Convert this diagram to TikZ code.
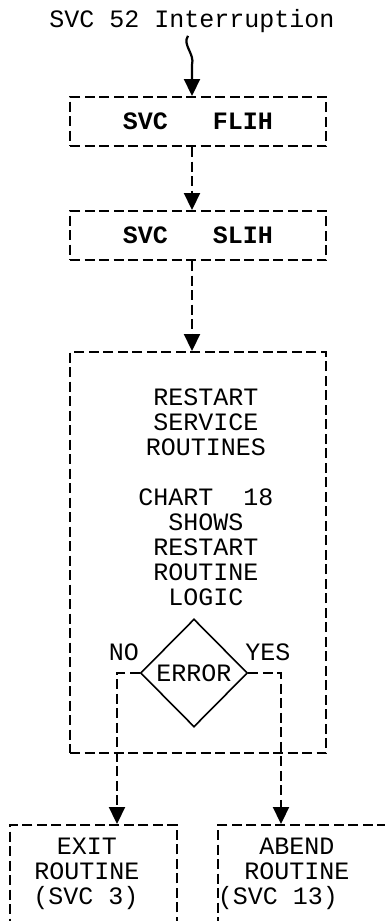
\documentclass[tikz,border=0pt]{standalone}
\usepackage{fontspec}
\newfontfamily\typefont{Liberation Mono}
\usetikzlibrary{shapes.geometric, arrows.meta, positioning}

\begin{document}
\begin{tikzpicture}[x=1pt, y=-1pt,
  font=\typefont\fontsize{25}{25}\selectfont,
  box/.style={rectangle, draw, line width=2pt, dash pattern=on 10pt off 4.5pt, minimum width=256pt, minimum height=49pt, align=center, inner sep=0pt},
  handler/.style={box, font=\typefont\fontsize{25}{25}\selectfont\bfseries},
  exitbox/.style={box, minimum width=167pt, anchor=north, inner ysep=13pt, text depth=60pt},
  decision/.style={diamond, draw, line width=1.6pt, minimum width=107pt, minimum height=108pt, inner sep=0pt},
  arrow/.style={-{Triangle[length=17pt, width=16pt]}, line width=2.2pt},
  flow/.style={arrow, dash pattern=on 10pt off 4.5pt}
]
  \useasboundingbox (0,0) rectangle (385,921);
  \clip (0,0) rectangle (385,921);

  \node[inner sep=0pt] (title) at (192,21) {SVC 52 Interruption};
  \node[handler] (flih) at (198,121.5) {SVC\ \ \ FLIH};
  \node[handler, below=63pt of flih] (slih) {SVC\ \ \ SLIH};
  \node[box, below=90pt of slih, minimum height=401pt] (restart) {};
  \node[align=center, inner sep=0pt] (restarttext) at (206,497)
    {RESTART\\SERVICE\\ROUTINES\\[25pt]CHART\ \ 18\\SHOWS\\RESTART\\ROUTINE\\LOGIC};
  \node[decision] (error) at (194,673) {ERROR};

  % the two exits run off the bottom of the page
  \node[exitbox] (exit) at (93.5,824)
    {\mbox{EXIT\hspace{13pt}}\\\mbox{ROUTINE\hspace{13pt}}\\\mbox{(SVC 3)\hspace{15pt}}};
  \node[exitbox] (abend) at (305.5,824)
    {\mbox{ABEND\hspace{17pt}}\\\mbox{ROUTINE\hspace{17pt}}\\\mbox{(SVC 13)\hspace{55pt}}};

  \draw[arrow] ([shift={(-4,3)}]title.south) .. controls +(-6,9) and +(3,-11) .. ++(4,29)
    -- (flih.north -| title);
  \draw[flow] (flih.south -| title) -- (slih.north -| title);
  \draw[flow] (slih.south -| title) -- (restart.north -| title);
  \draw[flow] (error.west) -| node[pos=0.35, above=8pt] {NO} ([xshift=23.5pt]exit.north);
  \draw[flow] (error.east) -| node[pos=0.3, above=8pt] {YES} ([xshift=-24.5pt]abend.north);
\end{tikzpicture}
\end{document}
